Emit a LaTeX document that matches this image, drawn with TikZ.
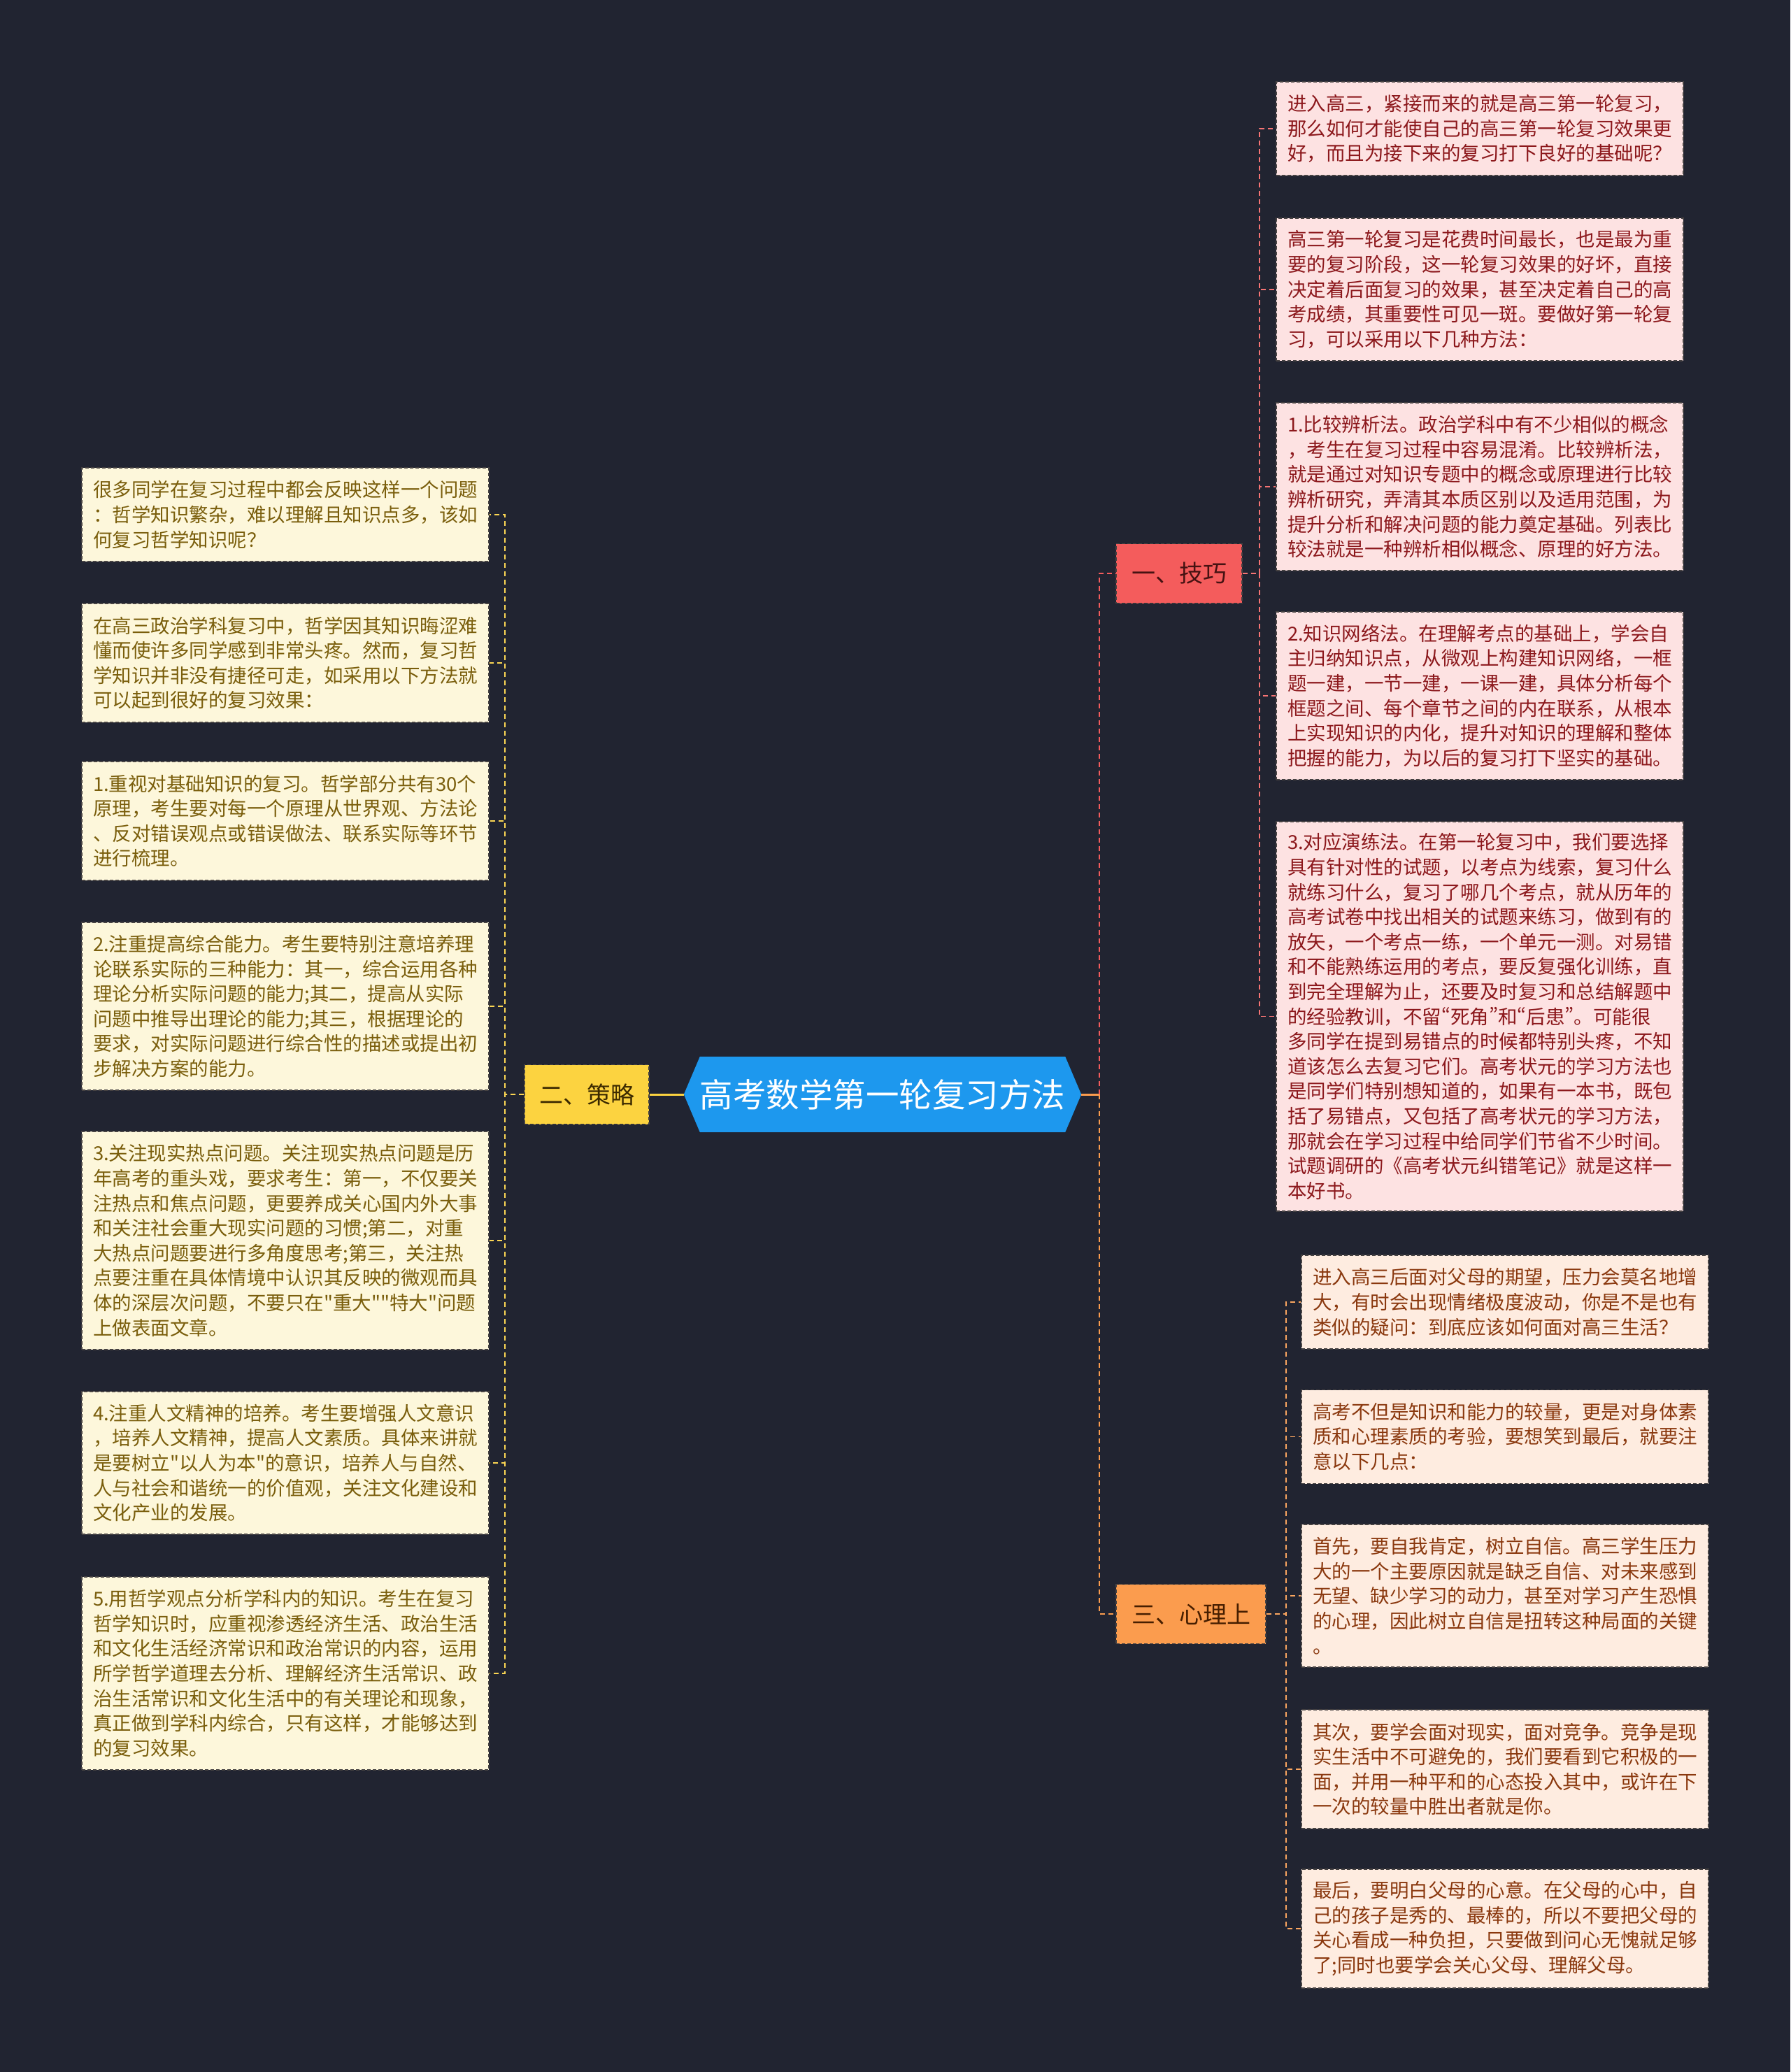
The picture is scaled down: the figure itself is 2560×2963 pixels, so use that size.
\documentclass[tikz,border=0pt]{standalone}
\usepackage{fontspec}
\newfontfamily\cjkfont{Noto Sans CJK SC}
\newfontfamily\cjkprop{Noto Sans CJK SC}[RawFeature=+pwid]
\usetikzlibrary{shapes.symbols}
\definecolor{bgc}{RGB}{33,36,49}
\definecolor{pinkfill}{RGB}{253,226,226}
\definecolor{pinktext}{RGB}{140,24,28}
\definecolor{creamfill}{RGB}{253,247,219}
\definecolor{creamtext}{RGB}{122,94,12}
\definecolor{peachfill}{RGB}{254,236,224}
\definecolor{peachtext}{RGB}{138,56,14}
\definecolor{redbr}{RGB}{244,92,92}
\definecolor{yellowbr}{RGB}{252,211,64}
\definecolor{orangebr}{RGB}{251,156,78}
\definecolor{centerfill}{RGB}{29,152,238}
\definecolor{edgec}{RGB}{70,66,66}
\tikzset{
  box/.style={draw=edgec, dash pattern=on 5pt off 3pt, line width=1.5pt,
    inner xsep=16pt, inner ysep=0pt, minimum width=582pt, text width=550pt,
    align=left, font=\cjkfont\fontsize{27.5}{35.6}\selectfont},
  pinkbox/.style={box, fill=pinkfill, text=pinktext},
  creambox/.style={box, fill=creamfill, text=creamtext},
  peachbox/.style={box, fill=peachfill, text=peachtext},
  branch/.style={draw=edgec, dash pattern=on 5pt off 3pt, line width=1.5pt,
    inner sep=0pt, minimum height=85pt, font=\cjkfont\fontsize{34}{40}\selectfont},
  link/.style={line width=2.2pt, dash pattern=on 7pt off 5pt},
  rlink/.style={link, draw=redbr!85!white},
  ylink/.style={link, draw=yellowbr!90!white},
  olink/.style={link, draw=orangebr!90!white}
}
\begin{document}
\begin{tikzpicture}[x=1pt,y=-1pt]
\useasboundingbox (0,0) rectangle (2560,2963);
\fill[bgc] (0,0) rectangle (2560,2963);

% center
\node[shape=signal, signal to=west and east, signal pointer angle=134,
  fill=centerfill, text=white, minimum width=537pt, minimum height=108pt,
  inner sep=0pt, font=\cjkfont\fontsize{47.5}{57}\selectfont] (c) at (1262,1565) {高考数学第一轮复习方法};

% branches
\node[branch, fill=redbr, text={rgb,255:red,70;green,18;blue,18}, minimum width=180pt] (jq) at (1686,820) {一、技巧};
\node[branch, fill=yellowbr, text={rgb,255:red,60;green,42;blue,0}, minimum width=178pt] (cl) at (839,1565) {二、策略};
\node[branch, fill=orangebr, text={rgb,255:red,70;green,30;blue,0}, minimum width=214pt] (xl) at (1703,2308) {三、心理上};

% right pink boxes
\node[pinkbox, minimum height=134pt] (r1) at (2116,184) {进入高三，紧接而来的就是高三第一轮复习，\\
那么如何才能使自己的高三第一轮复习效果更\\
好，而且为接下来的复习打下良好的基础呢？};
\node[pinkbox, minimum height=204pt] (r2) at (2116,414) {高三第一轮复习是花费时间最长，也是最为重\\
要的复习阶段，这一轮复习效果的好坏，直接\\
决定着后面复习的效果，甚至决定着自己的高\\
考成绩，其重要性可见一斑。要做好第一轮复\\
习，可以采用以下几种方法：};
\node[pinkbox, minimum height=240pt] (r3) at (2116,696) {1.比较辨析法。政治学科中有不少相似的概念\\
，考生在复习过程中容易混淆。比较辨析法，\\
就是通过对知识专题中的概念或原理进行比较\\
辨析研究，弄清其本质区别以及适用范围，为\\
提升分析和解决问题的能力奠定基础。列表比\\
较法就是一种辨析相似概念、原理的好方法。};
\node[pinkbox, minimum height=240pt] (r4) at (2116,995) {2.知识网络法。在理解考点的基础上，学会自\\
主归纳知识点，从微观上构建知识网络，一框\\
题一建，一节一建，一课一建，具体分析每个\\
框题之间、每个章节之间的内在联系，从根本\\
上实现知识的内化，提升对知识的理解和整体\\
把握的能力，为以后的复习打下坚实的基础。};
\node[pinkbox, minimum height=557pt] (r5) at (2116,1453.5) {3.对应演练法。在第一轮复习中，我们要选择\\
具有针对性的试题，以考点为线索，复习什么\\
就练习什么，复习了哪几个考点，就从历年的\\
高考试卷中找出相关的试题来练习，做到有的\\
放矢，一个考点一练，一个单元一测。对易错\\
和不能熟练运用的考点，要反复强化训练，直\\
到完全理解为止，还要及时复习和总结解题中\\
的经验教训，不留{\cjkprop “}死角{\cjkprop ”}和{\cjkprop “}后患{\cjkprop ”}。可能很\\
多同学在提到易错点的时候都特别头疼，不知\\
道该怎么去复习它们。高考状元的学习方法也\\
是同学们特别想知道的，如果有一本书，既包\\
括了易错点，又包括了高考状元的学习方法，\\
那就会在学习过程中给同学们节省不少时间。\\
试题调研的《高考状元纠错笔记》就是这样一\\
本好书。};

% left cream boxes
\node[creambox, minimum height=134pt] (l1) at (408,736) {很多同学在复习过程中都会反映这样一个问题\\
：哲学知识繁杂，难以理解且知识点多，该如\\
何复习哲学知识呢？};
\node[creambox, minimum height=170pt] (l2) at (408,948) {在高三政治学科复习中，哲学因其知识晦涩难\\
懂而使许多同学感到非常头疼。然而，复习哲\\
学知识并非没有捷径可走，如采用以下方法就\\
可以起到很好的复习效果：};
\node[creambox, minimum height=170pt] (l3) at (408,1174) {1.重视对基础知识的复习。哲学部分共有30个\\
原理，考生要对每一个原理从世界观、方法论\\
、反对错误观点或错误做法、联系实际等环节\\
进行梳理。};
\node[creambox, minimum height=240pt] (l4) at (408,1439) {2.注重提高综合能力。考生要特别注意培养理\\
论联系实际的三种能力：其一，综合运用各种\\
理论分析实际问题的能力;其二，提高从实际\\
问题中推导出理论的能力;其三，根据理论的\\
要求，对实际问题进行综合性的描述或提出初\\
步解决方案的能力。};
\node[creambox, minimum height=312pt] (l5) at (408,1774) {3.关注现实热点问题。关注现实热点问题是历\\
年高考的重头戏，要求考生：第一，不仅要关\\
注热点和焦点问题，更要养成关心国内外大事\\
和关注社会重大现实问题的习惯;第二，对重\\
大热点问题要进行多角度思考;第三，关注热\\
点要注重在具体情境中认识其反映的微观而具\\
体的深层次问题，不要只在"重大""特大"问题\\
上做表面文章。};
\node[creambox, minimum height=204pt] (l6) at (408,2092) {4.注重人文精神的培养。考生要增强人文意识\\
，培养人文精神，提高人文素质。具体来讲就\\
是要树立"以人为本"的意识，培养人与自然、\\
人与社会和谐统一的价值观，关注文化建设和\\
文化产业的发展。};
\node[creambox, minimum height=276pt] (l7) at (408,2393) {5.用哲学观点分析学科内的知识。考生在复习\\
哲学知识时，应重视渗透经济生活、政治生活\\
和文化生活经济常识和政治常识的内容，运用\\
所学哲学道理去分析、理解经济生活常识、政\\
治生活常识和文化生活中的有关理论和现象，\\
真正做到学科内综合，只有这样，才能够达到\\
的复习效果。};

% right peach boxes
\node[peachbox, minimum height=134pt] (p1) at (2152,1862) {进入高三后面对父母的期望，压力会莫名地增\\
大，有时会出现情绪极度波动，你是不是也有\\
类似的疑问：到底应该如何面对高三生活？};
\node[peachbox, minimum height=134pt] (p2) at (2152,2054.5) {高考不但是知识和能力的较量，更是对身体素\\
质和心理素质的考验，要想笑到最后，就要注\\
意以下几点：};
\node[peachbox, minimum height=204pt] (p3) at (2152,2282) {首先，要自我肯定，树立自信。高三学生压力\\
大的一个主要原因就是缺乏自信、对未来感到\\
无望、缺少学习的动力，甚至对学习产生恐惧\\
的心理，因此树立自信是扭转这种局面的关键\\
。};
\node[peachbox, minimum height=170pt] (p4) at (2152,2530) {其次，要学会面对现实，面对竞争。竞争是现\\
实生活中不可避免的，我们要看到它积极的一\\
面，并用一种平和的心态投入其中，或许在下\\
一次的较量中胜出者就是你。};
\node[peachbox, minimum height=170pt] (p5) at (2152,2758) {最后，要明白父母的心意。在父母的心中，自\\
己的孩子是秀的、最棒的，所以不要把父母的\\
关心看成一种负担，只要做到问心无愧就足够\\
了;同时也要学会关心父母、理解父母。};

% connectors from center
\coordinate (rb) at (1572,1565);
\draw[line width=3pt, yellowbr] (c.west) -- (cl.east);
\draw[line width=3pt, orangebr] (c.east) -- (rb);
\draw[link, draw=redbr] (rb) |- (jq.west);
\draw[link, draw=orangebr] (rb) |- (xl.west);

% branch children
\foreach \n in {r1,r2,r3,r4,r5} \draw[rlink, line width=1.8pt] (jq.east) -- ++(24,0) |- (\n.west);
\foreach \n in {l1,l2,l3,l4,l5,l6,l7} \draw[ylink, line width=1.8pt] (cl.west) -- ++(-27,0) |- (\n.east);
\foreach \n in {p1,p2,p3,p4,p5} \draw[olink, line width=1.8pt] (xl.east) -- ++(28,0) |- (\n.west);
\end{tikzpicture}
\end{document}
